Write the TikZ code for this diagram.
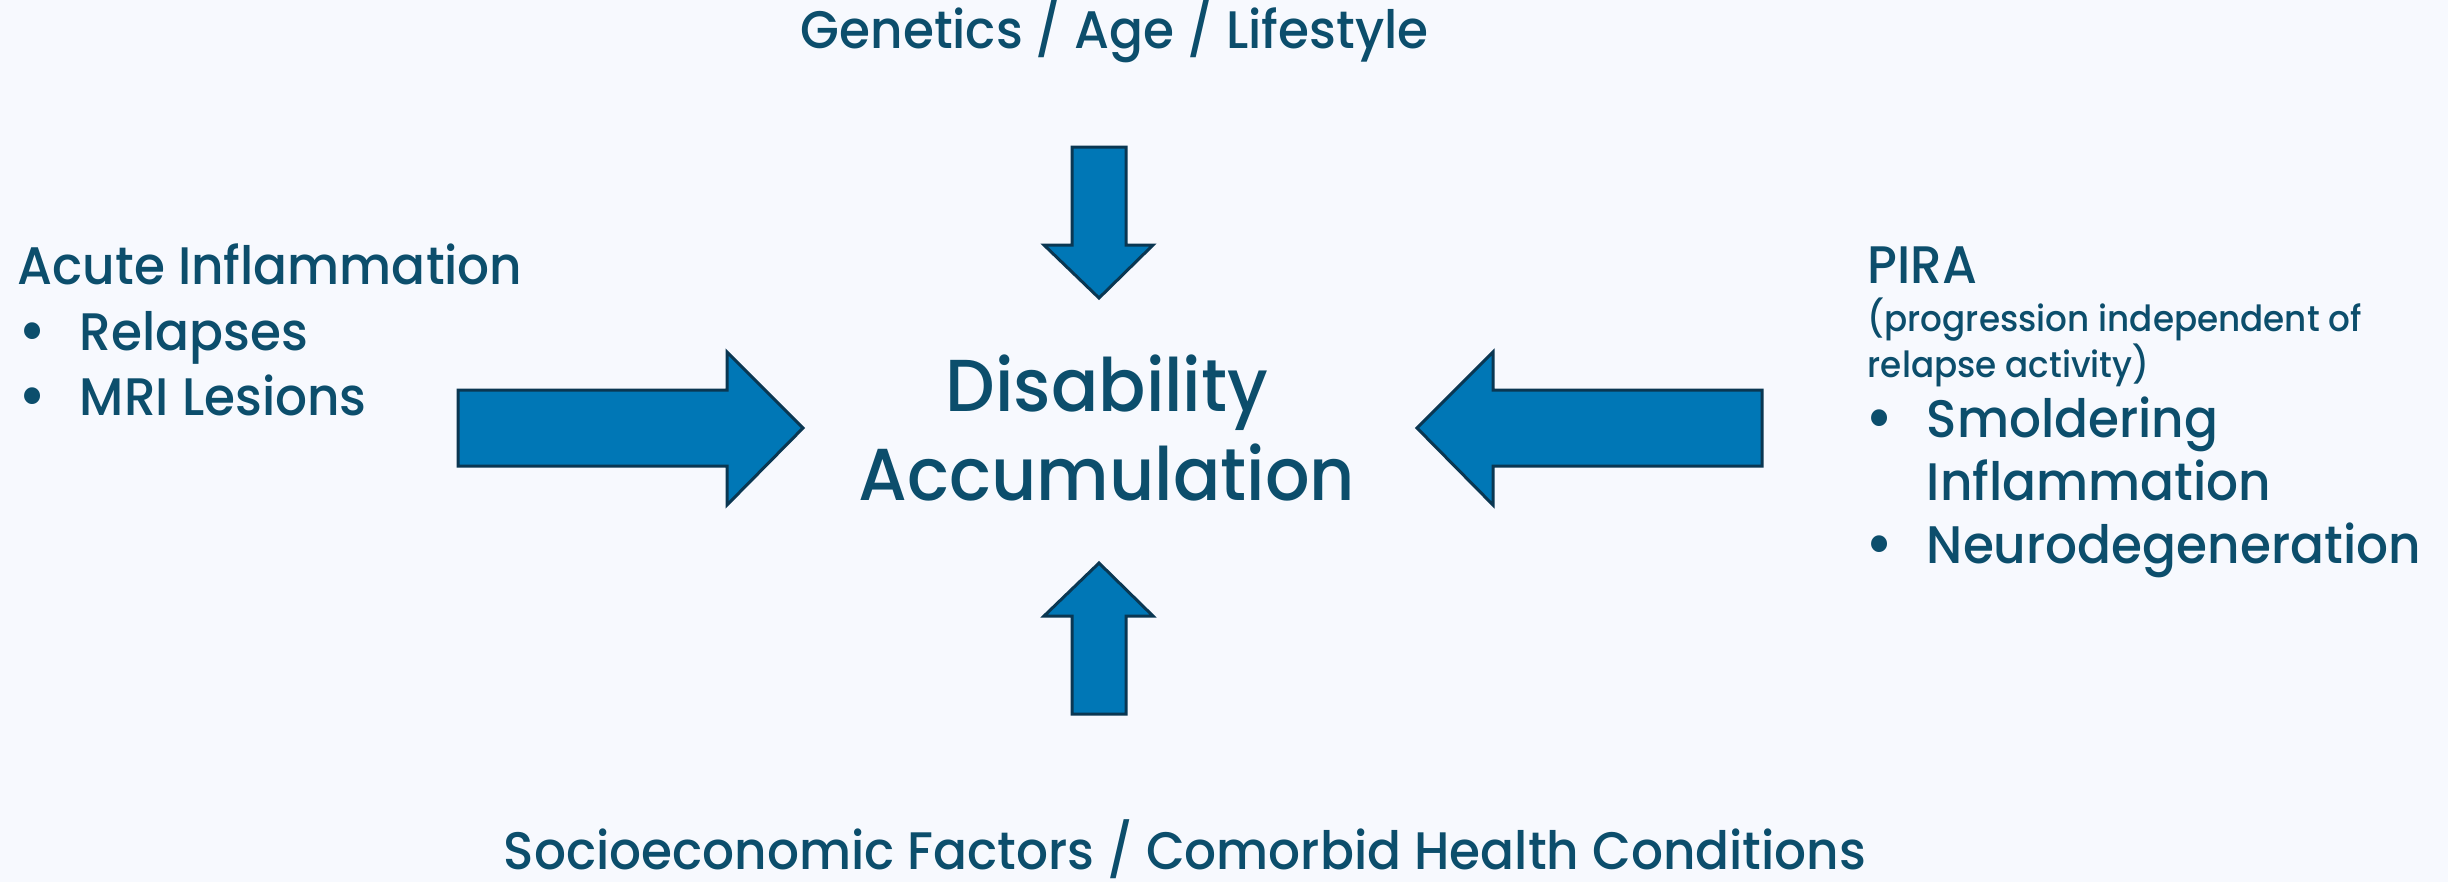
\documentclass[tikz,border=0pt]{standalone}
\usepackage{fontspec}
\setmainfont{Poppins Medium}[FakeStretch=0.95]
\definecolor{bgpale}{RGB}{247,249,254}
\definecolor{txtteal}{RGB}{12,78,108}
\definecolor{arrowblue}{RGB}{0,119,182}
\definecolor{arrowedge}{RGB}{10,55,82}
\newcommand{\mainsz}{\fontsize{13.2}{15}\selectfont}
\newcommand{\bigsz}{\fontsize{18.4}{21}\selectfont}
\newcommand{\smallsz}{\fontsize{9}{11}\selectfont}
\newcommand{\bulsz}{\fontsize{16}{18}\selectfont}
\tikzset{
  lbl/.style={anchor=base west, inner sep=0pt, text=txtteal, font=\mainsz},
  sublbl/.style={lbl, font=\smallsz},
  bullbl/.style={lbl, font=\bulsz},
  blockarrow/.style={fill=arrowblue, draw=arrowedge, line width=0.75pt, line join=miter}
}
\begin{document}
\begin{tikzpicture}[x=0.25pt,y=0.25pt,yscale=-1,xscale=1]
    % canvas
    \fill[bgpale] (0,0) rectangle (2448,882);
    \useasboundingbox (0,0) rectangle (2448,882);
    
    %Shape: Down Arrow
    \draw [blockarrow] (1072,147) -- (1126,147) -- (1126,245) -- (1153,245) -- (1099,298) -- (1044,245) -- (1072,245) -- cycle ;
    %Shape: Up Arrow
    \draw [blockarrow] (1072,714) -- (1126,714) -- (1126,616) -- (1153,616) -- (1099,563) -- (1044,616) -- (1072,616) -- cycle ;
    %Shape: Right Arrow
    \draw [blockarrow] (458,390) -- (727,390) -- (727,352) -- (803,428) -- (727,505) -- (727,466) -- (458,466) -- cycle ;
    %Shape: Left Arrow
    \draw [blockarrow] (1762,390) -- (1493,390) -- (1493,352) -- (1417,428) -- (1493,505) -- (1493,466) -- (1762,466) -- cycle ;
    
    % Text Node
    \draw (800,48) node (genetics) [lbl] {Genetics / Age / Lifestyle};
    % Text Node
    \draw (503,869) node (socio) [lbl] {Socioeconomic Factors / Comorbid Health Conditions};
    % Text Node
    \draw (1107,411) node (disab) [lbl, anchor=base, font=\bigsz] {Disability};
    % Text Node
    \draw (1107,500) node (accum) [lbl, anchor=base, font=\bigsz] {Accumulation};
    
    % Text Node
    \draw (17,284) node (acute) [lbl] {Acute Inflammation};
    % Text Node
    \draw (18,352) node (bulrel) [bullbl] {•};
    % Text Node
    \draw (79,350) node (relapses) [lbl] {Relapses};
    % Text Node
    \draw (18,417) node (bulmri) [bullbl] {•};
    % Text Node
    \draw (79,415) node (mri) [lbl] {MRI Lesions};
    
    % Text Node
    \draw (1867,283) node (pira) [lbl] {PIRA};
    % Text Node
    \draw (1867,331) node (progr) [sublbl] {(progression independent of};
    % Text Node
    \draw (1867,377) node (activity) [sublbl] {relapse activity)};
    % Text Node
    \draw (1865,439) node (bulsmol) [bullbl] {•};
    % Text Node
    \draw (1926,437) node (smold) [lbl] {Smoldering};
    % Text Node
    \draw (1926,500) node (inflam) [lbl] {Inflammation};
    % Text Node
    \draw (1865,565) node (bulneuro) [bullbl] {•};
    % Text Node
    \draw (1926,563) node (neuro) [lbl] {Neurodegeneration};
    
\end{tikzpicture}
\end{document}
